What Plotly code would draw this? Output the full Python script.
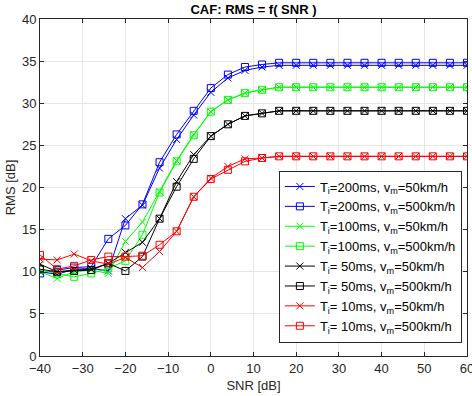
import plotly.graph_objects as go

snr = list(range(-40, 61, 4))

# plateau tails (16..60 dB -> 12 points)
def tail(v):
    return [v] * 12

rms_200_50 = [10.0, 9.7, 10.3, 10.4, 10.1, 16.3, 17.9, 22.3, 25.7, 28.6, 31.3, 33.0, 33.9, 34.3] + tail(34.5)
rms_200_500 = [9.8, 10.2, 10.5, 10.6, 13.9, 15.5, 18.0, 23.0, 26.3, 29.1, 31.8, 33.4, 34.3, 34.6] + tail(34.8)
rms_100_50 = [10.0, 9.2, 10.0, 10.2, 9.8, 13.6, 15.9, 19.5, 23.2, 26.3, 29.0, 30.4, 31.2, 31.6] + tail(31.9)
rms_100_500 = [10.2, 9.8, 9.4, 9.8, 10.4, 11.3, 14.4, 19.4, 23.1, 26.2, 29.0, 30.4, 31.2, 31.6] + tail(31.9)
rms_50_50 = [10.9, 10.0, 10.2, 10.3, 11.0, 12.3, 13.5, 16.3, 20.7, 23.9, 26.1, 27.5, 28.5, 28.8] + tail(29.1)
rms_50_500 = [10.3, 10.0, 10.1, 10.2, 11.0, 10.1, 11.8, 16.3, 20.1, 23.4, 26.1, 27.5, 28.5, 28.8] + tail(29.1)
rms_10_50 = [11.5, 11.4, 12.1, 11.3, 10.9, 11.7, 10.5, 12.4, 14.8, 18.9, 21.1, 22.5, 23.4, 23.5] + tail(23.7)
rms_10_500 = [12.0, 10.3, 10.7, 11.4, 11.8, 11.8, 11.9, 13.2, 14.8, 18.9, 21.0, 22.1, 23.1, 23.5] + tail(23.7)

names = [
    "T<sub>i</sub>=200ms, v<sub>m</sub>=50km/h",
    "T<sub>i</sub>=200ms, v<sub>m</sub>=500km/h",
    "T<sub>i</sub>=100ms, v<sub>m</sub>=50km/h",
    "T<sub>i</sub>=100ms, v<sub>m</sub>=500km/h",
    "T<sub>i</sub>= 50ms, v<sub>m</sub>=50km/h",
    "T<sub>i</sub>= 50ms, v<sub>m</sub>=500km/h",
    "T<sub>i</sub>= 10ms, v<sub>m</sub>=50km/h",
    "T<sub>i</sub>= 10ms, v<sub>m</sub>=500km/h",
]
series = [rms_200_50, rms_200_500, rms_100_50, rms_100_500,
          rms_50_50, rms_50_500, rms_10_50, rms_10_500]
colors = ["#0000ff", "#0000ff", "#00ff00", "#00ff00",
          "#000000", "#000000", "#ff0000", "#ff0000"]
symbols = ["x-thin", "square-open"] * 4

fig = go.Figure()
for nm, ys, c, s in zip(names, series, colors, symbols):
    fig.add_trace(go.Scatter(
        x=snr, y=ys, name=nm, mode="lines+markers",
        line=dict(color=c, width=1),
        marker=dict(symbol=s, size=7,
                    color=c, line=dict(color=c, width=1)),
    ))

fig.update_layout(
    width=472, height=396,
    margin=dict(l=40, r=5, t=19, b=40, autoexpand=False),
    paper_bgcolor="white", plot_bgcolor="white",
    font=dict(family="Liberation Sans, Arial, sans-serif", size=13, color="#262626"),
    title=dict(text="<b>CAF: RMS = f( SNR )</b>", xref="paper", x=0.5, xanchor="center",
               yref="container", y=0.977, yanchor="middle",
               font=dict(size=13, color="black")),
    showlegend=True,
    legend=dict(x=0.988, xanchor="right", y=0.04, yanchor="bottom",
                bgcolor="white", bordercolor="#262626", borderwidth=1,
                font=dict(size=13, color="black"), tracegroupgap=0,
                itemwidth=30),
)
fig.update_xaxes(range=[-40, 60], tickvals=list(range(-40, 61, 10)),
                 showgrid=True, gridcolor="#e6e6e6", zeroline=False,
                 showline=True, linecolor="#262626", linewidth=1, mirror="ticks",
                 ticks="inside", ticklen=4, tickcolor="#262626",
                 ticklabeloverflow="allow", automargin=False,
                 tickfont=dict(size=13),
                 title=dict(text="SNR [dB]", standoff=6, font=dict(size=13)))
fig.update_yaxes(range=[0, 40], tickvals=list(range(0, 41, 5)),
                 showgrid=True, gridcolor="#e6e6e6", zeroline=False,
                 showline=True, linecolor="#262626", linewidth=1, mirror="ticks",
                 ticks="inside", ticklen=4, tickcolor="#262626",
                 ticklabeloverflow="allow", automargin=False,
                 tickfont=dict(size=13),
                 title=dict(text="RMS [dB]", standoff=3, font=dict(size=13)))

fig.write_html("out.html", config={"displayModeBar": False},
               post_script="document.body.style.margin='0';document.body.style.overflow='hidden';")
